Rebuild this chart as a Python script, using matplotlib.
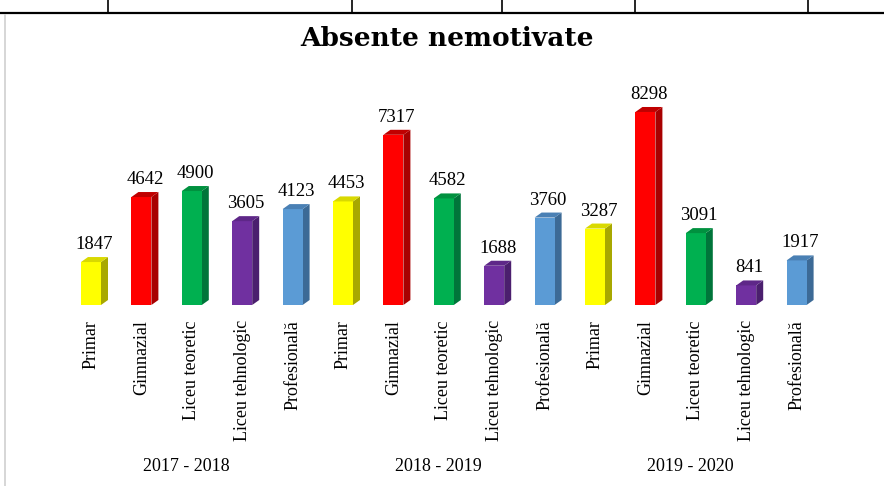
import numpy as np
import matplotlib
matplotlib.use('Agg')
import matplotlib.pyplot as plt
from matplotlib.patches import Polygon
from matplotlib.lines import Line2D

plt.rcParams['font.family'] = ['Liberation Serif', 'DejaVu Serif']

# date
ani = ['2017 - 2018', '2018 - 2019', '2019 - 2020']
categorii = ['Primar', 'Gimnazial', 'Liceu teoretic', 'Liceu tehnologic', 'Profesională']
valori_2017 = [1847, 4642, 4900, 3605, 4123]
valori_2018 = [4453, 7317, 4582, 1688, 3760]
valori_2019 = [3287, 8298, 3091, 841, 1917]

culori = ['#FFFF00', '#FF0000', '#00B050', '#7030A0', '#5B9BD5']
culori_lateral = ['#A8A800', '#A80000', '#00753A', '#4B1F6E', '#3C6A96']
culori_sus = ['#D9D900', '#C00000', '#00913F', '#5E2788', '#4A80B4']

valori = valori_2017 + valori_2018 + valori_2019
etichete = categorii * 3
W, H = 884, 486
fig = plt.figure(figsize=(W / 100, H / 100), dpi=100)
ax = fig.add_axes([0, 0, 1, 1])

# scara: pixeli pe unitate
px_x = 50.4
px_y = 0.02326
xmin = -91 / px_x
ymin = -(H - 305) / px_y
ax.set_xlim(xmin, xmin + W / px_x)
ax.set_ylim(ymin, ymin + H / px_y)
ax.axis('off')

x = np.arange(len(valori))
lat = 20 / px_x
dx = 7 / px_x
dy = 5 / px_y

ax.bar(x, valori, width=lat, color=[culori[i % 5] for i in x], zorder=3)
for i, v in zip(x, valori):
    c = i % 5
    x0, x1 = i - lat / 2, i + lat / 2
    sus = Polygon([(x0, v), (x1, v), (x1 + dx, v + dy), (x0 + dx, v + dy)],
                  closed=True, facecolor=culori_sus[c], edgecolor='none', zorder=3)
    lateral = Polygon([(x1, 0), (x1 + dx, dy), (x1 + dx, v + dy), (x1, v)],
                      closed=True, facecolor=culori_lateral[c], edgecolor='none', zorder=2)
    ax.add_patch(sus)
    ax.add_patch(lateral)
    ax.text(i + dx / 2, v + dy + 8 / px_y, str(v), ha='center', va='baseline', fontsize=13.5)
    ax.text(i, -15 / px_y, etichete[i], rotation=90, ha='center', va='top', fontsize=13)

for k, an in enumerate(ani):
    ax.text(5 * k + 1.9, -161 / px_y, an, ha='center', va='center', fontsize=13)

fig.text(0.506, 1 - 39 / H, 'Absente nemotivate', ha='center', va='center',
         fontsize=19, fontweight='bold', family='DejaVu Serif')

# chenarul paginii
fig.add_artist(Line2D([0, 1], [1 - 13 / H, 1 - 13 / H], color='black', lw=1.6))
for xp in [108, 352, 502, 635, 808]:
    fig.add_artist(Line2D([xp / W, xp / W], [1 - 13 / H, 1], color='black', lw=1.2))
fig.add_artist(Line2D([5 / W, 5 / W], [0, 1 - 15 / H], color='#D0D0D0', lw=1.2))

fig.savefig('out.png', dpi=100)
